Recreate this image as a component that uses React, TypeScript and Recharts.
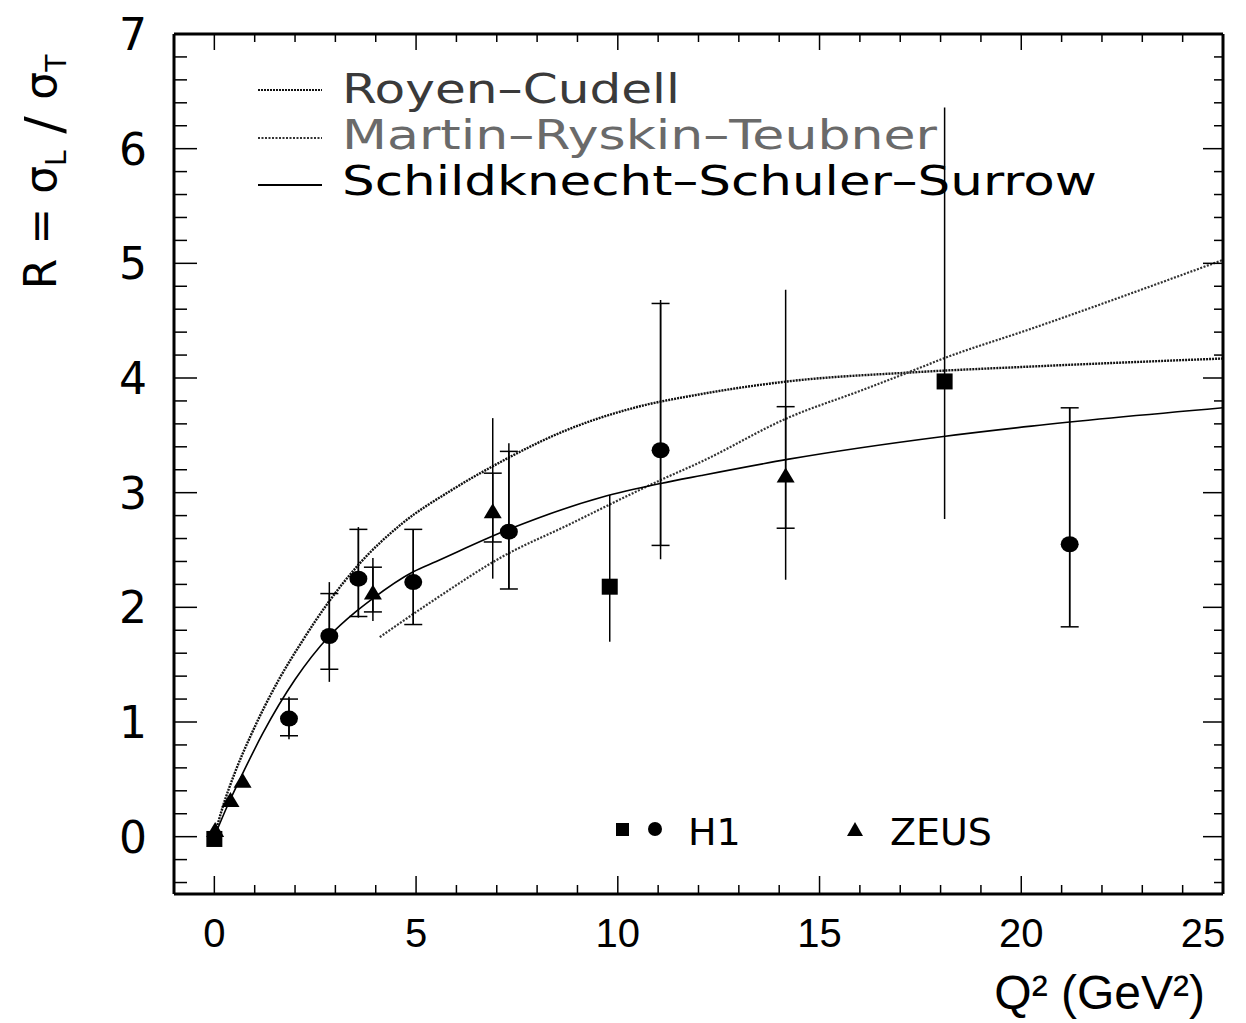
import React from 'react';
import { ComposedChart, Line, Scatter, XAxis, YAxis, ErrorBar, Customized } from 'recharts';

// ---------- axes ----------
const xMajorTicks = [0, 5, 10, 15, 20, 25];
const xTicks = [0, 1, 2, 3, 4, 5, 6, 7, 8, 9, 10, 11, 12, 13, 14, 15, 16, 17, 18, 19, 20, 21, 22, 23, 24, 25];
const yMajorTicks = [0, 1, 2, 3, 4, 5, 6, 7];
const yTicks = Array.from({ length: 38 }, (_, i) => Math.round((i - 2) * 2) / 10);
const xDomain = [-1, 25];
const yDomain = [-0.5, 7];

// ---------- theory curves ----------
const royenQ2 = [0, 0.2, 0.5, 0.9, 1.6, 2.17, 2.82, 3.57, 4.65, 5.87, 6.95, 8.76, 10.4, 12.07, 14.2, 17.35, 20.25, 25];
const royenR = [0, 0.25, 0.55, 0.88, 1.37, 1.7, 2.04, 2.37, 2.73, 3.02, 3.24, 3.55, 3.74, 3.86, 3.97, 4.05, 4.1, 4.17];

const mrtQ2 = [4.1, 5.47, 7.13, 8.78, 10.4, 11.06, 12.07, 14.2, 16.1, 17.35, 18.07, 20.25, 25];
const mrtR = [1.74, 2.07, 2.44, 2.72, 3.0, 3.11, 3.27, 3.65, 3.9, 4.07, 4.17, 4.43, 5.03];

const sssQ2 = [0, 0.3, 0.7, 1.2, 2.0, 2.85, 3.5, 3.9, 4.93, 5.5, 7.3, 9.6, 11.06, 12.07, 14.2, 18.07, 20.25, 25];
const sssR = [0, 0.25, 0.55, 0.9, 1.37, 1.75, 1.96, 2.07, 2.31, 2.4, 2.68, 2.96, 3.08, 3.15, 3.29, 3.49, 3.58, 3.74];

// ---------- H1 data ----------
const h1CircleQ2 = [1.85, 2.85, 3.57, 4.93, 7.3, 11.06, 21.2];
const h1CircleR = [1.03, 1.75, 2.25, 2.22, 2.66, 3.37, 2.55];
const h1CircleTotLo = [0.85, 1.35, 1.91, 1.85, 2.16, 2.42, 1.83];
const h1CircleTotHi = [1.22, 2.22, 2.7, 2.68, 3.43, 4.68, 3.74];
const h1CircleStatLo = [0.88, 1.46, 1.92, 1.85, 2.16, 2.54, 1.83];
const h1CircleStatHi = [1.2, 2.12, 2.68, 2.68, 3.36, 4.65, 3.74];

const h1SquareQ2 = [0.0, 9.8, 18.1];
const h1SquareR = [-0.02, 2.18, 3.97];
const h1SquareTotLo = [-0.02, 1.7, 2.77];
const h1SquareTotHi = [-0.02, 2.98, 6.36];

// ---------- ZEUS data ----------
const zeusLowQ2 = [0.02, 0.4, 0.7];
const zeusLowR = [0.05, 0.31, 0.48];
const zeusQ2 = [3.93, 6.9, 14.16];
const zeusR = [2.12, 2.83, 3.14];
const zeusTotLo = [1.88, 2.25, 2.24];
const zeusTotHi = [2.43, 3.65, 4.77];
const zeusStatLo = [1.96, 2.57, 2.69];
const zeusStatHi = [2.35, 3.17, 3.75];

const curve = (xs: number[], ys: number[]) => xs.map((x, i) => ({ x, y: ys[i] }));
const pts = (xs: number[], ys: number[], tl?: number[], th?: number[], sl?: number[], sh?: number[]) =>
  xs.map((x, i) => ({
    x,
    y: ys[i],
    tot: tl && th ? [ys[i] - tl[i], th[i] - ys[i]] : [0, 0],
    stat: sl && sh ? [ys[i] - sl[i], sh[i] - ys[i]] : [0, 0],
  }));

const royenData = curve(royenQ2, royenR);
const mrtData = curve(mrtQ2, mrtR);
const sssData = curve(sssQ2, sssR);
const h1Circles = pts(h1CircleQ2, h1CircleR, h1CircleTotLo, h1CircleTotHi, h1CircleStatLo, h1CircleStatHi);
const h1Squares = pts(h1SquareQ2, h1SquareR, h1SquareTotLo, h1SquareTotHi);
const zeusLow = pts(zeusLowQ2, zeusLowR);
const zeusMain = pts(zeusQ2, zeusR, zeusTotLo, zeusTotHi, zeusStatLo, zeusStatHi);

const W = 1238;
const H = 1015;
const PL = 166;
const PR = 1215;
const PT = 26;
const PB = 886;

const isMajor = (v: number) => Math.abs(v - Math.round(v)) < 1e-6;

const BottomTick = (p: any) => {
  const v = p.payload.value;
  const major = xMajorTicks.includes(v);
  const last = v === xMajorTicks[xMajorTicks.length - 1];
  return (
    <g>
      <line x1={p.x} x2={p.x} y1={p.y} y2={p.y - (major ? 18 : 9)} stroke="#000" strokeWidth={1.5} />
      {major && (
        <text x={last ? p.x - 20 : p.x} y={p.y + 53} textAnchor="middle" fontFamily="Liberation Sans" fontSize={40} fill="#000">
          {v}
        </text>
      )}
    </g>
  );
};
const TopTick = (p: any) => {
  const v = p.payload.value;
  const major = xMajorTicks.includes(v);
  return <line x1={p.x} x2={p.x} y1={p.y} y2={p.y + (major ? 16 : 8)} stroke="#000" strokeWidth={1.5} />;
};
const LeftTick = (p: any) => {
  const v = p.payload.value;
  const major = isMajor(v);
  return (
    <g>
      <line x1={p.x} x2={p.x + (major ? 23 : 13)} y1={p.y} y2={p.y} stroke="#000" strokeWidth={1.5} />
      {major && (
        <text x={p.x - 27} y={p.y + 16} textAnchor="end" fontFamily="DejaVu Sans" fontSize={44} fill="#000">
          {yMajorTicks[Math.round(v)]}
        </text>
      )}
    </g>
  );
};
const RightTick = (p: any) => {
  const v = p.payload.value;
  const major = isMajor(v);
  return <line x1={p.x} x2={p.x - (major ? 20 : 9)} y1={p.y} y2={p.y} stroke="#000" strokeWidth={1.5} />;
};

const CircleMark = (p: any) => <ellipse cx={p.cx} cy={p.cy} rx={9} ry={8} fill="#000" />;
const SquareMark = (p: any) => <rect x={p.cx - 8} y={p.cy - 8} width={16} height={16} fill="#000" />;
const TriMark = (p: any) => (
  <polygon points={`${p.cx},${p.cy - 9} ${p.cx - 9},${p.cy + 6} ${p.cx + 9},${p.cy + 6}`} fill="#000" />
);

const Overlay = () => (
  <g>
    {/* theory legend */}
    <line x1={250} x2={314} y1={82} y2={82} stroke="#111" strokeWidth={2.2} strokeDasharray="2 1" />
    <text x={334} y={95} fontFamily="DejaVu Sans" fontSize={41} fill="#3a3a3a" textLength={338} lengthAdjust="spacingAndGlyphs">
      Royen–Cudell
    </text>
    <line x1={250} x2={314} y1={130} y2={130} stroke="#333" strokeWidth={2} strokeDasharray="2 1.5" />
    <text x={334} y={141} fontFamily="DejaVu Sans" fontSize={41} fill="#6a6a6a" textLength={595} lengthAdjust="spacingAndGlyphs">
      Martin–Ryskin–Teubner
    </text>
    <line x1={250} x2={314} y1={177} y2={177} stroke="#000" strokeWidth={2} />
    <text x={334} y={187} fontFamily="DejaVu Sans" fontSize={41} fill="#000" textLength={755} lengthAdjust="spacingAndGlyphs">
      Schildknecht–Schuler–Surrow
    </text>

    {/* experiment legend */}
    <rect x={608} y={815} width={13} height={13} fill="#000" />
    <circle cx={647} cy={821} r={7} fill="#000" />
    <text x={680} y={837} fontFamily="DejaVu Sans" fontSize={38} fill="#000">H1</text>
    <polygon points="847,814 839,828 855,828" fill="#000" />
    <text x={882} y={837} fontFamily="DejaVu Sans" fontSize={38} fill="#000">ZEUS</text>

    {/* axis titles */}
    <text
      transform="translate(48,164) rotate(-90)"
      textAnchor="middle"
      fontFamily="DejaVu Sans"
      fontSize={44}
      fill="#000"
    >
      R = σ
      <tspan fontSize={28} dy={10}>L</tspan>
      <tspan fontSize={52} dy={-4}> / </tspan>
      <tspan fontSize={44} dy={-6}>σ</tspan>
      <tspan fontSize={28} dy={10}>T</tspan>
    </text>
    <text x={1197} y={1001} textAnchor="end" fontFamily="Liberation Sans" fontSize={48} fill="#000">
      Q² (GeV²)
    </text>
  </g>
);

export default function App() {
  return (
    <div style={{ width: W, height: H, background: '#fff' }}>
      <ComposedChart width={W} height={H} margin={{ top: 0, right: 0, bottom: 0, left: 0 }}>
        <XAxis
          xAxisId="b"
          type="number"
          dataKey="x"
          orientation="bottom"
          domain={xDomain}
          ticks={xTicks}
          interval={0}
          allowDataOverflow
          height={H - PB}
          tickSize={0}
          tickMargin={0}
          tickLine={false}
          axisLine={{ stroke: '#000', strokeWidth: 3 }}
          tick={<BottomTick />}
        />
        <XAxis
          xAxisId="t"
          type="number"
          dataKey="x"
          orientation="top"
          domain={xDomain}
          ticks={xTicks}
          interval={0}
          allowDataOverflow
          height={PT}
          tickSize={0}
          tickMargin={0}
          tickLine={false}
          axisLine={{ stroke: '#000', strokeWidth: 3 }}
          tick={<TopTick />}
        />
        <YAxis
          yAxisId="l"
          type="number"
          dataKey="y"
          orientation="left"
          domain={yDomain}
          ticks={yTicks}
          interval={0}
          allowDataOverflow
          width={PL}
          tickSize={0}
          tickMargin={0}
          tickLine={false}
          axisLine={{ stroke: '#000', strokeWidth: 3 }}
          tick={<LeftTick />}
        />
        <YAxis
          yAxisId="r"
          type="number"
          dataKey="y"
          orientation="right"
          domain={yDomain}
          ticks={yTicks}
          interval={0}
          allowDataOverflow
          width={W - PR}
          tickSize={0}
          tickMargin={0}
          tickLine={false}
          axisLine={{ stroke: '#000', strokeWidth: 3 }}
          tick={<RightTick />}
        />

        <Line xAxisId="b" yAxisId="l" data={royenData} dataKey="y" type="monotone" stroke="#111" strokeWidth={2.4} strokeDasharray="2 1" dot={false} isAnimationActive={false} />
        <Line xAxisId="b" yAxisId="l" data={mrtData} dataKey="y" type="monotone" stroke="#333" strokeWidth={2.2} strokeDasharray="2 1.5" dot={false} isAnimationActive={false} />
        <Line xAxisId="b" yAxisId="l" data={sssData} dataKey="y" type="monotone" stroke="#000" strokeWidth={1.6} dot={false} isAnimationActive={false} />

        <Scatter xAxisId="b" yAxisId="l" data={h1Circles} dataKey="y" shape={<CircleMark />} isAnimationActive={false}>
          <ErrorBar dataKey="tot" direction="y" width={0} stroke="#000" strokeWidth={1.5} />
          <ErrorBar dataKey="stat" direction="y" width={9} stroke="#000" strokeWidth={1.5} />
        </Scatter>
        <Scatter xAxisId="b" yAxisId="l" data={h1Squares} dataKey="y" shape={<SquareMark />} isAnimationActive={false}>
          <ErrorBar dataKey="tot" direction="y" width={0} stroke="#000" strokeWidth={1.5} />
        </Scatter>
        <Scatter xAxisId="b" yAxisId="l" data={zeusMain} dataKey="y" shape={<TriMark />} isAnimationActive={false}>
          <ErrorBar dataKey="tot" direction="y" width={0} stroke="#000" strokeWidth={1.5} />
          <ErrorBar dataKey="stat" direction="y" width={9} stroke="#000" strokeWidth={1.5} />
        </Scatter>
        <Scatter xAxisId="b" yAxisId="l" data={zeusLow} dataKey="y" shape={<TriMark />} isAnimationActive={false} />

        <Customized component={Overlay} />
      </ComposedChart>
    </div>
  );
}
